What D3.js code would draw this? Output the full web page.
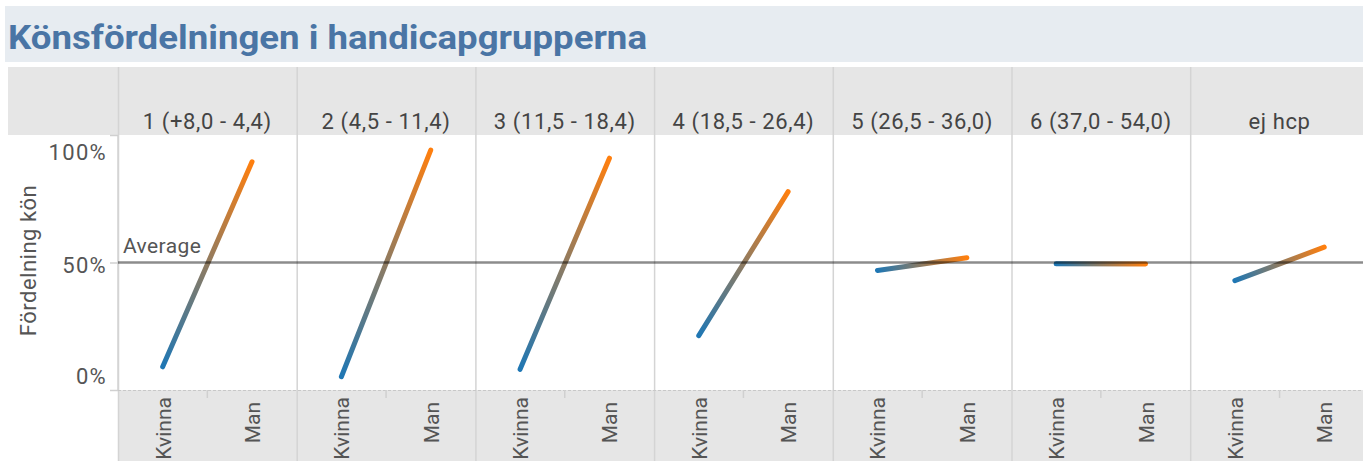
<!DOCTYPE html>
<html>
<head>
<meta charset="utf-8">
<script src="https://cdn.jsdelivr.net/npm/d3@7"></script>
<style>
  body { margin: 0; background: #fff; }
  text { font-family: Roboto, "Noto Sans", sans-serif; }
</style>
</head>
<body>
<svg id="chart" width="1363" height="461"></svg>
<script>
// data
const title = "Könsfördelningen i handicapgrupperna";
const groups = ["1 (+8,0 - 4,4)", "2 (4,5 - 11,4)", "3 (11,5 - 18,4)", "4 (18,5 - 26,4)", "5 (26,5 - 36,0)", "6 (37,0 - 54,0)", "ej hcp"];
const genders = ["Kvinna", "Man"];
const kvinna = [0.091, 0.052, 0.081, 0.213, 0.469, 0.495, 0.429];
const man = [0.895, 0.941, 0.909, 0.778, 0.519, 0.494, 0.56];
const yTicks = [0, 0.5, 1];
const yTitle = "Fördelning kön";
const refLabel = "Average";

const W = 1363, H = 461;
const plotLeft = 118, panelW = 178.7;
const plotTop = 135, plotBottom = 390;
const blue = "#1f77b4", orange = "#ff7f0e";

const svg = d3.select("#chart");
const defs = svg.append("defs");

const x = d3.scaleBand().domain(groups).range([plotLeft, plotLeft + groups.length * panelW]);
const xi = d3.scaleBand().domain(genders).range([0, x.bandwidth()]);
const y = d3.scaleLinear().domain([0, 1]).range([plotBottom, plotTop]);

// title band
svg.append("rect").attr("x", 5).attr("y", 6).attr("width", W - 5).attr("height", 56).attr("fill", "#e7ecf1");
svg.append("text").attr("x", 8).attr("y", 49)
  .attr("font-size", 33).attr("font-weight", 700).attr("fill", "#4a75a5")
  .attr("textLength", 639).attr("lengthAdjust", "spacingAndGlyphs")
  .text(title);

// header band + label band
svg.append("rect").attr("x", 8).attr("y", 67).attr("width", W - 8).attr("height", plotTop - 67).attr("fill", "#e6e6e6");
svg.append("rect").attr("x", plotLeft).attr("y", plotBottom).attr("width", W - plotLeft).attr("height", H - plotBottom).attr("fill", "#e6e6e6");

// panel separators
svg.append("g").selectAll("line").data(groups).join("line")
  .attr("x1", (d) => x(d) + 0.5).attr("x2", (d) => x(d) + 0.5)
  .attr("y1", 67).attr("y2", H)
  .attr("stroke", "#d4d4d4").attr("stroke-width", 1.5);

// header labels
svg.append("g").selectAll("text").data(groups).join("text")
  .attr("x", (d) => x(d) + x.bandwidth() / 2).attr("y", 129)
  .attr("text-anchor", "middle").attr("font-size", 22).attr("letter-spacing", 0.6)
  .attr("fill", "#444").text((d) => d);

// dashed top of label band
svg.append("line").attr("x1", plotLeft).attr("x2", W).attr("y1", plotBottom + 0.5).attr("y2", plotBottom + 0.5)
  .attr("stroke", "#c8c8c8").attr("stroke-dasharray", "3,2");

// x axes, one per panel
groups.forEach((g) => {
  const gx = svg.append("g").attr("transform", `translate(${x(g)},${plotBottom})`);
  gx.append("line").attr("x1", x.bandwidth() / 2).attr("x2", x.bandwidth() / 2)
    .attr("y1", 0).attr("y2", 8).attr("stroke", "#d0d0d0").attr("stroke-width", 1.5);
  gx.selectAll("text").data(genders).join("text")
    .attr("transform", (d) => `translate(${xi(d) + xi.bandwidth() / 2 + 8},${d === "Man" ? 12 : 7}) rotate(-90)`)
    .attr("text-anchor", "end").attr("font-size", 21)
    .attr("fill", "#555").text((d) => d);
});

// y axis
const yAxis = svg.append("g").attr("transform", `translate(${plotLeft},0)`)
  .call(d3.axisLeft(y).tickValues(yTicks).tickSize(8).tickFormat(d3.format(".0%")));
yAxis.select(".domain").attr("stroke", "#d4d4d4").attr("stroke-width", 1.5).attr("d", `M0,${plotTop}V${plotBottom}`);
yAxis.selectAll(".tick line").attr("stroke", "#d0d0d0").attr("stroke-width", 1.5);
yAxis.selectAll(".tick text")
  .attr("x", -11).attr("font-size", 22).attr("letter-spacing", 1.3).attr("fill", "#555")
  .attr("dy", (d) => d === 1 ? "1.12em" : d === 0 ? "-0.28em" : "0.46em");

svg.append("text").attr("transform", `translate(36,${(plotTop + plotBottom) / 2 - 2}) rotate(-90)`)
  .attr("text-anchor", "middle").attr("font-size", 22).attr("letter-spacing", 0.5)
  .attr("fill", "#555").text(yTitle);

// lines with blue-to-orange gradient
const rows = groups.map((g, i) => ({ group: g, i, k: kvinna[i], m: man[i] }));
rows.forEach((r) => {
  const x1 = x(r.group) + xi("Kvinna") + xi.bandwidth() / 2;
  const x2 = x(r.group) + xi("Man") + xi.bandwidth() / 2;
  const grad = defs.append("linearGradient").attr("id", `g${r.i}`)
    .attr("gradientUnits", "userSpaceOnUse")
    .attr("x1", x1).attr("y1", y(r.k)).attr("x2", x2).attr("y2", y(r.m));
  grad.append("stop").attr("offset", 0).attr("stop-color", blue);
  grad.append("stop").attr("offset", 1).attr("stop-color", orange);
});

const line = d3.line().x((d) => d.x).y((d) => y(d.v));
svg.append("g").selectAll("path").data(rows).join("path")
  .attr("d", (r) => line([
    { x: x(r.group) + xi("Kvinna") + xi.bandwidth() / 2, v: r.k },
    { x: x(r.group) + xi("Man") + xi.bandwidth() / 2, v: r.m }
  ]))
  .attr("fill", "none").attr("stroke", (r) => `url(#g${r.i})`)
  .attr("stroke-width", 5).attr("stroke-linecap", "round");

// average reference line
svg.append("line").attr("x1", plotLeft).attr("x2", W).attr("y1", y(0.5)).attr("y2", y(0.5))
  .attr("stroke", "#000").attr("stroke-opacity", 0.45).attr("stroke-width", 2.5);
svg.append("text").attr("x", 123).attr("y", y(0.5) - 10)
  .attr("font-size", 21).attr("letter-spacing", 0.4).attr("fill", "#555").text(refLabel);
</script>
</body>
</html>
